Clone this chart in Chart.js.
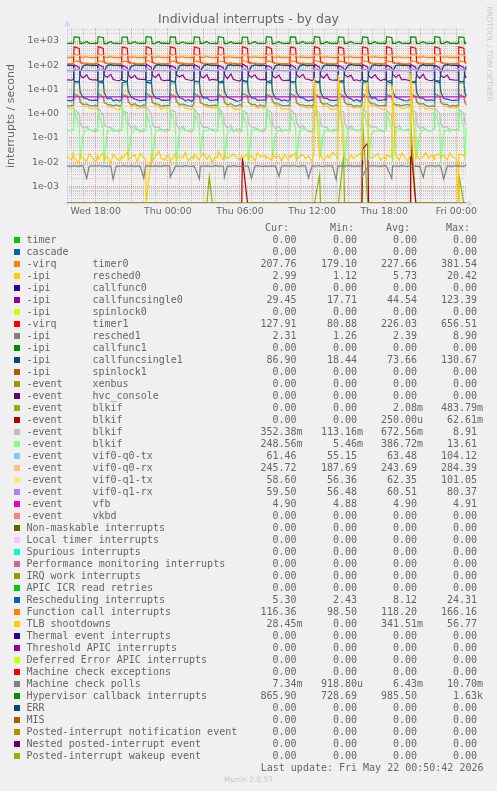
<!DOCTYPE html>
<html>
<head>
<meta charset="utf-8">
<title>Individual interrupts - by day</title>
<script src="https://cdn.jsdelivr.net/npm/chart.js@4.4.1/dist/chart.umd.min.js"></script>
<style>
  html, body { margin: 0; padding: 0; background: #f0f0f0; }
  #wrap { position: relative; width: 497px; height: 791px; overflow: hidden; color: #666; font-family: "DejaVu Sans", sans-serif; }
  #chart { position: absolute; left: 0; top: 0; }
  .abs { position: absolute; white-space: pre; }
  #title { left: 0; top: 11px; width: 497px; text-align: center; font-size: 12.5px; line-height: 15px; }
  #ytitle { left: -89px; top: 108.5px; width: 200px; text-align: center; font-size: 11px; line-height: 14px; transform: rotate(-90deg); }
  #side { left: 428.5px; top: 48.5px; width: 120px; text-align: center; font-size: 7.4px; line-height: 10px; color: #c8c8c8; transform: rotate(90deg); }
  #munin { left: 0; top: 775px; width: 497px; text-align: center; font-size: 7.5px; line-height: 10px; color: #c8c8c8; }
  .leg { font-family: "DejaVu Sans Mono", monospace; font-size: 10px; line-height: 12px; height: 12px; }
  .sw { position: absolute; width: 6px; height: 6px; }
</style>
</head>
<body>
<div id="wrap">
  <canvas id="chart" width="497" height="225"></canvas>
  <div id="title" class="abs">Individual interrupts - by day</div>
  <div id="ytitle" class="abs">interrupts / second</div>
  <div id="side" class="abs">RRDTOOL / TOBI OETIKER</div>
  <div id="legend"></div>
  <div id="munin" class="abs">Munin 2.0.57</div>
</div>
<script>
// sample times, hours relative to Thu 00:00. the load comes in bursts every two hours,
// so each 2h block is sampled around the burst edges
const periodStarts = [-8, -6, -4, -2, 0, 2, 4, 6, 8, 10, 12, 14, 16, 18, 20, 22];
const periodOffsets = [0, 0.15, 0.2, 0.63, 0.7, 0.95, 1.25, 1.45, 1.7];
const headHours = [-8.4];
const tailHours = [24, 24.15, 24.2, 24.63, 24.7, 24.83];
const flatHours = [-8.4, 24.83];

const tickHours = [-6, 0, 6, 12, 18, 24];
const tickLabels = ["Wed 18:00", "Thu 00:00", "Thu 06:00", "Thu 12:00", "Thu 18:00", "Fri 00:00"];

// series values (interrupts / second): first value, one line per 2h block, last six values
const hypervisor = [805,
  800,790,1480,1420,780,810,950,800,790,
  810,800,1500,1400,770,800,960,790,800,
  790,805,1450,1440,785,820,930,805,795,
  800,795,1520,1410,760,805,955,800,810,
  805,790,1490,1450,775,795,925,810,800,
  795,800,1470,1420,780,815,965,795,790,
  800,785,1500,1400,770,800,945,800,805,
  810,800,1460,1430,765,810,950,790,800,
  790,805,1510,1420,755,805,935,805,795,
  800,795,1480,1440,780,820,960,800,810,
  815,800,1500,1410,765,800,940,795,800,
  800,810,1470,1430,775,815,955,805,790,
  790,800,1490,1420,770,800,930,800,805,
  805,790,1520,1400,780,810,960,790,800,
  800,800,1480,1440,765,805,945,805,795,
  795,810,1500,1420,775,800,950,800,805,
  800,790,1490,1430,780,866];
const timer1 = [114,
  112,118,570,490,140,118,112,115,110,
  116,120,585,495,135,115,110,118,113,
  110,115,560,500,145,120,114,112,111,
  118,122,590,485,138,116,111,117,114,
  113,117,575,505,142,119,113,115,110,
  111,119,565,490,136,117,112,114,116,
  117,121,580,500,140,115,110,118,112,
  112,116,570,495,137,121,114,113,111,
  115,120,590,485,143,118,112,116,114,
  110,118,560,505,139,116,111,115,113,
  116,122,585,495,141,119,113,117,110,
  113,117,575,490,135,117,114,112,115,
  111,119,565,500,144,115,110,118,112,
  118,121,590,495,138,120,113,114,111,
  112,116,570,505,140,118,112,116,114,
  115,120,580,490,137,116,111,115,113,
  114,118,575,500,140,128];
const timer0 = [207,
  205,210,285,255,220,212,225,208,206,
  208,206,290,250,218,210,228,205,209,
  203,211,280,258,222,214,222,207,204,
  209,207,295,252,216,209,226,210,206,
  206,212,283,256,221,213,224,204,208,
  204,208,288,249,219,211,229,209,203,
  210,205,292,254,217,215,223,206,207,
  205,211,281,257,223,210,227,208,205,
  207,209,294,251,218,212,225,203,209,
  203,206,286,255,220,214,221,207,206,
  208,212,289,250,216,211,228,210,204,
  206,207,282,258,222,209,224,205,208,
  204,210,293,253,219,213,226,209,207,
  209,208,287,256,217,212,223,206,203,
  205,211,284,252,221,210,227,208,206,
  207,206,291,254,218,214,225,204,209,
  206,210,286,255,220,208];
const vifQ0rx = [242,
  240,244,262,255,246,242,250,241,243,
  243,241,265,253,248,239,252,244,240,
  238,245,260,257,244,243,249,240,242,
  244,242,267,254,247,241,251,243,239,
  241,246,261,256,245,240,248,242,244,
  239,243,264,252,249,244,253,239,241,
  245,240,259,255,243,242,250,244,238,
  240,244,266,257,246,239,249,241,243,
  242,247,262,253,248,243,252,238,240,
  238,241,263,256,244,241,251,243,245,
  243,245,260,254,247,240,248,240,242,
  241,242,268,252,245,244,250,242,239,
  239,246,261,257,249,242,253,244,241,
  244,243,264,255,243,239,249,239,243,
  240,241,262,253,246,243,251,241,240,
  242,245,265,256,248,241,250,243,242,
  241,244,263,254,246,246];
const functionCall = [115,
  113,116,150,140,125,117,124,114,115,
  115,114,155,138,127,119,122,116,113,
  112,117,148,142,123,116,126,113,114,
  116,115,158,139,126,118,123,115,117,
  114,113,151,141,124,120,125,112,115,
  111,116,154,137,128,117,121,116,114,
  117,114,149,143,125,119,127,114,112,
  113,118,156,140,122,116,124,115,116,
  115,115,152,138,127,118,122,113,114,
  112,117,150,142,124,120,126,117,113,
  116,114,157,139,126,117,123,114,115,
  114,116,148,141,123,119,125,112,116,
  113,115,155,140,128,116,121,115,114,
  117,113,151,138,125,118,127,116,112,
  112,117,153,143,124,117,124,114,115,
  115,116,150,139,126,119,122,113,114,
  114,115,152,140,125,116];
const callfuncsingle1 = [99,
  98,95,22,20,50,92,104,100,97,
  101,97,21,19,55,95,106,98,99,
  96,94,24,21,48,90,102,101,98,
  100,98,20,18,52,94,105,97,100,
  97,96,23,20,47,93,103,99,96,
  102,94,22,21,54,91,107,100,98,
  99,97,21,19,50,96,104,96,101,
  96,95,24,20,46,92,102,99,97,
  100,93,22,18,53,95,106,101,99,
  98,96,20,21,49,90,105,98,96,
  101,98,23,19,51,94,103,97,100,
  97,95,21,20,56,93,107,100,98,
  99,94,24,21,48,91,104,99,97,
  102,97,22,18,52,96,102,98,101,
  96,96,20,20,50,92,106,97,99,
  100,95,23,19,47,95,105,101,98,
  98,96,22,20,52,87];
const rescheduling = [3.5,
  3.4,3.8,20,22,8,4.5,4.2,3.6,3.5,
  3.6,3.5,21,23,7.5,4.2,4.5,3.4,3.7,
  3.3,3.9,19,21,8.5,4.8,4.0,3.7,3.4,
  3.7,3.6,22,24,7.8,4.4,4.3,3.5,3.6,
  3.5,3.7,20,22,8.2,4.6,4.1,3.3,3.8,
  3.2,4.0,21,21,7.6,4.3,4.6,3.6,3.5,
  3.8,3.5,19,23,8.4,4.7,4.2,3.8,3.3,
  3.4,3.8,22,22,7.9,4.5,4.4,3.5,3.6,
  3.6,3.6,20,24,8.1,4.2,4.0,3.4,3.7,
  3.3,3.9,21,21,7.7,4.8,4.5,3.7,3.4,
  3.7,3.5,19,22,8.3,4.4,4.3,3.6,3.5,
  3.5,3.7,22,23,7.8,4.6,4.1,3.3,3.8,
  3.2,3.8,20,21,8.0,4.3,4.6,3.6,3.5,
  3.8,3.6,21,24,8.5,4.7,4.2,3.8,3.4,
  3.4,3.9,19,22,7.6,4.5,4.4,3.5,3.6,
  3.6,3.5,22,23,8.2,4.2,4.0,3.7,3.5,
  3.5,3.7,20,22,8,5.3];
const resched0 = [1.7,
  1.6,1.8,16,18,4.0,2.0,2.1,1.7,1.6,
  1.7,1.6,17,19,3.6,2.2,1.9,1.8,1.5,
  1.5,1.9,15,17,4.2,1.9,2.2,1.6,1.7,
  1.8,1.7,18,20,3.8,2.1,2.0,1.5,1.8,
  1.6,1.8,16,18,4.1,2.0,2.3,1.7,1.6,
  1.5,2.0,17,17,3.7,2.2,1.9,1.8,1.7,
  1.9,1.6,16,19,4.3,1.9,2.1,1.6,1.5,
  1.6,1.7,18,18,3.9,2.1,2.0,1.7,1.8,
  1.7,1.9,15,20,4.0,2.0,2.2,1.5,1.6,
  1.5,1.7,17,17,3.6,2.3,1.9,1.8,1.7,
  1.8,1.8,16,18,4.2,1.9,2.1,1.6,1.5,
  1.6,1.6,18,19,3.8,2.1,2.0,1.7,1.8,
  1.7,1.9,17,17,4.1,2.0,2.2,1.8,1.6,
  1.5,1.7,15,20,3.7,2.2,1.9,1.6,1.7,
  1.9,1.8,16,18,4.3,1.9,2.1,1.5,1.6,
  1.6,1.6,18,19,3.9,2.1,2.0,1.7,1.8,
  1.7,1.8,17,18,4.0,3.0];
const resched1 = [2.1,
  2.1,2.2,6.5,5.0,3.0,2.4,2.5,2.2,2.1,
  2.2,2.0,6.8,4.8,2.8,2.5,2.3,2.1,2.3,
  2.0,2.3,6.2,5.3,3.1,2.3,2.6,2.2,2.0,
  2.3,2.1,7.0,4.9,2.9,2.6,2.4,2.0,2.2,
  2.1,2.2,6.4,5.2,3.2,2.4,2.5,2.3,2.1,
  2.0,2.4,6.7,5.0,2.8,2.5,2.3,2.1,2.2,
  2.2,2.1,6.3,4.7,3.0,2.3,2.6,2.2,2.0,
  2.4,2.0,6.9,5.4,2.9,2.4,2.4,2.0,2.3,
  2.0,2.3,6.2,5.0,3.1,2.6,2.5,2.2,2.1,
  2.2,2.1,6.6,5.1,2.8,2.3,2.3,2.1,2.2,
  2.1,2.2,6.4,4.9,3.0,2.5,2.6,2.3,2.0,
  2.3,2.0,7.1,5.2,2.9,2.4,2.4,2.0,2.2,
  2.0,2.3,6.5,4.8,3.2,2.6,2.5,2.2,2.1,
  2.2,2.1,6.2,5.3,2.8,2.3,2.3,2.1,2.3,
  2.4,2.2,6.8,5.0,3.0,2.5,2.6,2.2,2.0,
  2.1,2.0,6.6,5.1,2.9,2.4,2.4,2.0,2.2,
  2.1,2.2,6.4,5.0,3.0,2.3];
const callfuncsingle0 = [25,
  24,26,105,80,40,30,40,27,25,
  25,24,110,84,38,32,42,26,24,
  23,27,100,78,42,29,38,28,26,
  26,25,112,82,39,31,43,25,23,
  24,23,98,79,41,33,39,27,25,
  23,26,108,81,37,30,41,24,26,
  25,24,102,77,43,28,44,26,24,
  22,27,115,83,40,32,40,28,25,
  26,25,100,80,38,30,39,25,23,
  24,23,106,78,42,31,42,27,26,
  23,26,111,82,39,29,43,26,24,
  25,24,99,76,41,33,38,24,25,
  22,27,107,84,37,30,41,28,23,
  26,25,103,79,43,32,40,25,26,
  24,23,109,81,40,29,42,27,24,
  23,26,101,77,38,31,39,26,25,
  24,25,105,80,40,29.5];
const vifQ0tx = [61,
  60,61,72,66,62,60,63,61,60,
  61,60,74,65,63,61,62,60,61,
  59,62,70,67,61,60,64,62,59,
  62,60,75,64,62,59,62,60,61,
  60,61,71,66,63,61,63,59,60,
  61,59,73,65,61,60,64,61,62,
  59,62,70,67,62,62,62,60,60,
  60,61,76,64,63,59,63,62,61,
  62,60,71,66,61,60,62,60,59,
  60,61,74,65,62,61,64,61,60,
  61,59,72,67,63,59,63,60,62,
  59,62,73,64,61,60,62,62,60,
  60,60,70,66,62,62,64,59,61,
  62,61,75,65,63,60,63,61,60,
  60,60,71,67,61,61,62,60,59,
  61,62,74,64,62,59,64,61,61,
  60,61,72,66,62,61.5];
const vifQ1tx = [59,
  58,59,68,63,60,58,60,59,58,
  59,58,70,62,61,59,61,58,59,
  57,60,67,64,59,58,59,60,57,
  60,58,71,61,60,57,61,58,59,
  58,59,69,63,61,59,60,57,58,
  59,57,68,62,59,58,62,59,60,
  57,60,66,64,60,60,59,58,58,
  58,59,72,61,61,57,60,60,59,
  60,58,67,63,59,58,61,58,57,
  58,59,70,62,60,59,59,59,58,
  59,57,68,64,61,57,60,58,60,
  57,60,69,61,59,58,62,60,58,
  58,58,66,63,60,60,59,57,59,
  60,59,71,62,61,58,61,59,58,
  58,58,67,64,59,59,60,58,57,
  59,60,70,61,60,57,61,59,59,
  58,59,68,63,60,58.6];
const vifQ1rx = [60,
  59,60,66,62,61,59,60,60,59,
  60,59,67,61,60,60,61,59,60,
  58,60,65,63,61,59,60,60,58,
  60,59,68,61,60,58,61,59,60,
  59,60,66,62,61,60,60,58,59,
  60,58,67,61,59,59,62,60,60,
  58,60,65,63,60,60,59,59,59,
  59,60,69,61,61,58,60,60,60,
  60,59,66,62,60,59,61,59,58,
  59,60,67,61,61,60,60,60,59,
  60,58,66,63,59,58,61,59,60,
  58,60,68,61,60,59,62,60,59,
  59,59,65,62,61,60,60,58,60,
  60,60,67,61,60,59,61,59,59,
  59,59,66,63,59,60,60,60,58,
  60,60,68,61,61,58,61,59,60,
  59,60,66,62,60,59.5];
const blkifGray = [0.2,
  0.2,0.22,1.5,1.0,0.4,0.25,0.3,0.22,0.2,
  0.18,0.24,1.7,0.9,0.35,0.28,0.27,0.19,0.21,
  0.21,0.2,1.3,1.1,0.42,0.24,0.32,0.23,0.18,
  0.19,0.23,1.9,1.0,0.38,0.26,0.29,0.2,0.22,
  0.22,0.21,1.4,1.2,0.36,0.23,0.31,0.21,0.19,
  0.17,0.25,1.6,0.8,0.41,0.27,0.28,0.24,0.2,
  0.2,0.22,1.7,1.0,0.37,0.25,0.33,0.18,0.23,
  0.23,0.19,1.4,1.0,0.39,0.29,0.26,0.22,0.19,
  0.19,0.24,1.6,1.1,0.34,0.24,0.3,0.2,0.21,
  0.21,0.2,1.5,0.9,0.43,0.26,0.32,0.23,0.18,
  0.18,0.23,1.8,1.0,0.36,0.28,0.27,0.19,0.22,
  0.22,0.21,1.3,1.2,0.4,0.23,0.31,0.21,0.2,
  0.2,0.25,1.7,1.0,0.38,0.27,0.29,0.24,0.19,
  0.19,0.22,1.4,0.8,0.35,0.25,0.33,0.2,0.21,
  0.23,0.2,1.6,1.1,0.42,0.24,0.28,0.22,0.2,
  0.2,0.24,1.7,1.0,0.37,0.26,0.3,0.18,0.22,
  0.21,0.22,1.5,1.0,0.4,0.35];
const blkifGreen = [0.21,
  0.2,0.22,1.5,0.3,0.012,0.15,0.25,0.22,0.2,
  0.23,0.19,1.2,0.25,0.009,0.18,0.21,0.24,0.19,
  0.18,0.24,2.0,0.35,0.015,0.14,0.26,0.2,0.22,
  0.21,0.2,1.1,0.22,0.01,0.17,0.22,0.23,0.18,
  0.19,0.23,1.6,0.3,0.008,0.16,0.25,0.19,0.21,
  0.22,0.21,1.3,0.28,0.02,0.19,0.2,0.22,0.23,
  0.2,0.18,2.2,0.33,0.011,0.15,0.24,0.21,0.19,
  0.17,0.22,1.2,0.24,0.009,0.18,0.23,0.24,0.2,
  0.23,0.25,1.7,0.3,0.013,0.14,0.21,0.18,0.22,
  0.19,0.2,1.0,0.27,0.01,0.17,0.26,0.22,0.2,
  0.21,0.23,1.8,0.32,0.016,0.16,0.22,0.2,0.18,
  0.2,0.19,1.4,0.26,0.008,0.19,0.25,0.23,0.21,
  0.22,0.24,1.5,0.3,0.012,0.15,0.2,0.19,0.22,
  0.18,0.21,1.1,0.23,0.01,0.18,0.24,0.21,0.2,
  0.21,0.22,1.9,0.34,0.014,0.14,0.23,0.22,0.19,
  0.2,0.25,1.3,0.28,0.009,0.17,0.21,0.24,0.21,
  0.22,0.2,1.6,0.3,0.011,0.25];
const blkifOlive = [0,
  0,0,0,0,0,0,0,0,0,
  0,0,0,0,0,0,0,0,0,
  0,0,0,0,0,0,0,0,0,
  0,0,0,0,0,0,0,0,0,
  0,0,0,0,0,0,0,0,0,
  0,0,0,0,0,0,0,0.0025,0,
  0,0,0,0,0,0,0,0,0,
  0,0,0,0,0,0,0,0,0,
  0,0,0,0,0,0,0,0,0,
  0,0,0,0,0,0,0,0,0,
  0,0,0,0.003,0,0,0,0,0,
  0,0,0,0.02,0,0,0,0,0,
  0,0,0.45,0,0,0,0,0,0,
  0,0,0,0,0,0,0,0,0,
  0,0,0.48,0,0,0,0,0,0,
  0,0,0,0,0,0,0,0,0,
  0,0,0.003,0,0,0];
const blkifRed = [0,
  0,0,0,0,0,0,0,0,0,
  0,0,0,0,0,0,0,0,0,
  0,0,0,0,0,0,0,0,0,
  0,0,0,0,0,0,0,0,0,
  0,0,0,0,0,0,0,0,0,
  0,0,0,0,0,0,0,0,0,
  0,0,0,0,0,0,0,0,0,
  0,0,0.016,0,0,0,0,0,0,
  0,0,0,0,0,0,0,0,0,
  0,0,0,0,0,0,0,0,0,
  0,0,0,0,0,0,0,0,0,
  0,0,0,0,0,0,0,0,0,
  0,0,0.035,0.06,0,0,0,0,0,
  0,0,0,0,0,0,0,0,0,
  0,0,0.05,0,0,0,0,0,0,
  0,0,0,0,0,0,0,0,0,
  0,0,0,0,0,0];
const tlbShootdowns = [0.018,
  0.012,0.025,0.015,0.009,0.02,0.014,0.011,0.022,0.016,
  0.01,0.019,0.013,0.024,0.012,0.017,0.009,0.021,0.015,
  0.011,0.018,0.014,0.026,0.012,0.016,0.02,0.01,0.023,
  0.015,0.013,0,0.019,0.011,0.017,0.028,0.014,0.012,
  0.02,0.016,0.01,0.022,0.013,0.018,0.015,0.025,0.011,
  0.017,0.014,0.021,0.012,0.016,0.024,0.013,0.019,0.01,
  0.018,0.015,0.027,0.012,0.02,0.014,0.017,0.022,0.016,
  0.012,0.018,0.015,0.021,0.013,0.019,0.011,0.024,0.016,
  0.02,0.014,0.017,0.012,0.023,0.015,0.018,0.011,0.021,
  0.013,0.019,0.016,0.024,0.012,0.017,0.02,0.014,0.018,
  0.011,0.022,30,0.016,0.022,0.012,0.018,0.015,0.025,
  0.019,0.013,40,0.021,0.016,0.011,0.02,0.014,0.018,
  0.023,0.015,0.6,20,0.02,0.014,0.018,0.023,0.012,
  0.017,0.013,0.02,0.015,15,0.019,0.012,0.024,0.016,
  0.011,0.018,50,0.014,0.02,0.013,0.017,0.025,0.014,
  0.02,0.013,0.018,0.022,0.015,0.019,0.012,0.024,0.016,
  0.014,0,0.022,0.018,0.02,0.028];
const mcePolls = [0.0068,
  0.0066,0.007,0.0069,0.0067,0.0071,0.0068,0.0021,0.0066,0.007,
  0.0069,0.0068,0.0072,0.0067,0.0069,0.0066,0.007,0.0019,0.0068,
  0.0067,0.0069,0.0071,0.0068,0.0066,0.007,0.0068,0.0069,0.0067,
  0.0022,0.0071,0.0068,0.0069,0.0066,0.007,0.0068,0.0067,0.0071,
  0.0068,0.0069,0.0024,0.0066,0.007,0.0068,0.0067,0.0071,0.0068,
  0.0066,0.007,0.0068,0.002,0.0069,0.0066,0.007,0.0068,0.0067,
  0.0071,0.0068,0.0069,0.0066,0.0023,0.0068,0.0067,0.0071,0.0068,
  0.0066,0.007,0.0069,0.0068,0.0067,0.0021,0.0069,0.0071,0.0068,
  0.0067,0.0069,0.0066,0.007,0.0068,0.0069,0.0025,0.0067,0.0071,
  0.0068,0.0066,0.007,0.0069,0.0068,0.0067,0.0071,0.0068,0.0022,
  0.0069,0.0068,0.0067,0.0071,0.0068,0.0066,0.007,0.0069,0.0068,
  0.0019,0.007,0.0069,0.0068,0.0067,0.0071,0.0068,0.0066,0.007,
  0.0068,0.0067,0.0026,0.0068,0.0066,0.007,0.0069,0.0068,0.0067,
  0.0071,0.0068,0.0066,0.0021,0.0069,0.0068,0.0067,0.0071,0.0068,
  0.0066,0.007,0.0068,0.0069,0.0067,0.0068,0.0023,0.0066,0.007,
  0.0069,0.0068,0.0067,0.0071,0.0068,0.002,0.0069,0.0068,0.0067,
  0.0071,0.0068,0.0069,0.0066,0.007,0.0073];
// constant series, two samples (start and end)
const vfb = [4.9, 4.9];
const postedWakeup = [0, 0];

// legend table
const legendNames = ["timer", "cascade", "-virq", "-ipi", "-ipi", "-ipi", "-ipi", "-virq", "-ipi", "-ipi", "-ipi", "-ipi",
  "-event", "-event", "-event", "-event", "-event", "-event", "-event", "-event", "-event", "-event", "-event", "-event",
  "Non-maskable interrupts", "Local timer interrupts", "Spurious interrupts", "Performance monitoring interrupts",
  "IRQ work interrupts", "APIC ICR read retries", "Rescheduling interrupts", "Function call interrupts", "TLB shootdowns",
  "Thermal event interrupts", "Threshold APIC interrupts", "Deferred Error APIC interrupts", "Machine check exceptions",
  "Machine check polls", "Hypervisor callback interrupts", "ERR", "MIS", "Posted-interrupt notification event",
  "Nested posted-interrupt event", "Posted-interrupt wakeup event"];
const legendDetails = ["", "", "timer0", "resched0", "callfunc0", "callfuncsingle0", "spinlock0", "timer1", "resched1", "callfunc1",
  "callfuncsingle1", "spinlock1", "xenbus", "hvc_console", "blkif", "blkif", "blkif", "blkif", "vif0-q0-tx", "vif0-q0-rx",
  "vif0-q1-tx", "vif0-q1-rx", "vfb", "vkbd"];
const legendColors = ["#00CC00", "#0066B3", "#FF8000", "#FFCC00", "#330099", "#990099", "#CCFF00", "#FF0000", "#808080", "#008F00",
  "#00487D", "#B35A00", "#B38F00", "#6B006B", "#8FB300", "#B30000", "#BEBEBE", "#80FF80", "#80C9FF", "#FFC080", "#FFE680",
  "#AA80FF", "#EE00CC", "#FF8080", "#666600", "#FFBFFF", "#00FFCC", "#CC6699", "#999900", "#00CC00", "#0066B3", "#FF8000",
  "#FFCC00", "#330099", "#990099", "#CCFF00", "#FF0000", "#808080", "#008F00", "#00487D", "#B35A00", "#B38F00", "#6B006B", "#8FB300"];
const legendCur = ["0.00","0.00","207.76","2.99","0.00","29.45","0.00","127.91","2.31","0.00","86.90","0.00","0.00","0.00","0.00","0.00",
  "352.38m","248.56m","61.46","245.72","58.60","59.50","4.90","0.00","0.00","0.00","0.00","0.00","0.00","0.00","5.30","116.36",
  "28.45m","0.00","0.00","0.00","0.00","7.34m","865.90","0.00","0.00","0.00","0.00","0.00"];
const legendMin = ["0.00","0.00","179.10","1.12","0.00","17.71","0.00","80.88","1.26","0.00","18.44","0.00","0.00","0.00","0.00","0.00",
  "113.16m","5.46m","55.15","187.69","56.36","56.48","4.88","0.00","0.00","0.00","0.00","0.00","0.00","0.00","2.43","98.50",
  "0.00","0.00","0.00","0.00","0.00","918.80u","728.69","0.00","0.00","0.00","0.00","0.00"];
const legendAvg = ["0.00","0.00","227.66","5.73","0.00","44.54","0.00","226.03","2.39","0.00","73.66","0.00","0.00","0.00","2.08m","250.00u",
  "672.56m","386.72m","63.48","243.69","62.35","60.51","4.90","0.00","0.00","0.00","0.00","0.00","0.00","0.00","8.12","118.20",
  "341.51m","0.00","0.00","0.00","0.00","6.43m","985.50","0.00","0.00","0.00","0.00","0.00"];
const legendMax = ["0.00","0.00","381.54","20.42","0.00","123.39","0.00","656.51","8.90","0.00","130.67","0.00","0.00","0.00","483.79m","62.61m",
  "8.91","13.61","104.12","284.39","101.05","80.37","4.91","0.00","0.00","0.00","0.00","0.00","0.00","0.00","24.31","166.16",
  "56.77","0.00","0.00","0.00","0.00","10.70m","1.63k","0.00","0.00","0.00","0.00","0.00"];
const legendHeaders = ["Cur:", "Min:", "Avg:", "Max:"];
const lastUpdate = "Last update: Fri May 22 00:50:42 2026";

const hours = headHours.concat(periodStarts.flatMap((s) => periodOffsets.map((o) => s + o)), tailHours);

// plotted series, by legend row (later rows are drawn on top)
const plotted = [
  { row: 3, color: "#FF8000", values: timer0 },
  { row: 4, color: "#FFCC00", values: resched0 },
  { row: 6, color: "#990099", values: callfuncsingle0 },
  { row: 8, color: "#FF0000", values: timer1 },
  { row: 9, color: "#808080", values: resched1 },
  { row: 11, color: "#00487D", values: callfuncsingle1 },
  { row: 15, color: "#8FB300", values: blkifOlive },
  { row: 16, color: "#B30000", values: blkifRed },
  { row: 17, color: "#BEBEBE", values: blkifGray },
  { row: 18, color: "#80FF80", values: blkifGreen },
  { row: 19, color: "#80C9FF", values: vifQ0tx },
  { row: 20, color: "#FFC080", values: vifQ0rx },
  { row: 21, color: "#FFE680", values: vifQ1tx },
  { row: 22, color: "#AA80FF", values: vifQ1rx },
  { row: 23, color: "#EE00CC", values: vfb, at: flatHours },
  { row: 31, color: "#0066B3", values: rescheduling },
  { row: 32, color: "#FF8000", values: functionCall },
  { row: 33, color: "#FFCC00", values: tlbShootdowns },
  { row: 38, color: "#808080", values: mcePolls },
  { row: 39, color: "#008F00", values: hypervisor },
  { row: 44, color: "#8FB300", values: postedWakeup, at: flatHours }
];

const xMin = -8.39, xMax = 24.89;
const yMin = 2.04e-4, yMax = 3443;
const axisColor = "#CFD6F8";
const minorGrid = "rgba(143,143,143,0.4)";
const majorGrid = "rgba(222,80,80,0.5)";
const tickFont = { family: "DejaVu Sans", size: 9.4 };

function isDecade(v) {
  const e = Math.log10(v);
  return Math.abs(e - Math.round(e)) < 1e-9;
}

function expLabel(v) {
  const e = Math.round(Math.log10(v));
  const a = Math.abs(e);
  return "1e" + (e < 0 ? "-" : "+") + (a < 10 ? "0" : "") + a;
}

// axis lines with arrow heads, like rrdtool
const rrdAxes = {
  id: "rrdAxes",
  beforeDatasetsDraw(chart) {
    const { ctx, chartArea: a } = chart;
    ctx.save();
    ctx.strokeStyle = axisColor;
    ctx.fillStyle = axisColor;
    ctx.lineWidth = 1;
    ctx.beginPath();
    ctx.moveTo(a.left + 0.5, a.bottom + 3);
    ctx.lineTo(a.left + 0.5, a.top - 3);
    ctx.moveTo(a.left - 3, a.bottom + 0.5);
    ctx.lineTo(a.right + 2, a.bottom + 0.5);
    ctx.stroke();
    ctx.beginPath();
    ctx.moveTo(a.left - 2.5, a.top - 2);
    ctx.lineTo(a.left + 3.5, a.top - 2);
    ctx.lineTo(a.left + 0.5, a.top - 7.5);
    ctx.closePath();
    ctx.fill();
    ctx.beginPath();
    ctx.moveTo(a.right + 1, a.bottom - 2.5);
    ctx.lineTo(a.right + 1, a.bottom + 3.5);
    ctx.lineTo(a.right + 6.5, a.bottom + 0.5);
    ctx.closePath();
    ctx.fill();
    ctx.restore();
  }
};

const datasets = plotted.map((s) => {
  const xs = s.at || hours;
  return {
    data: s.values.map((v, i) => ({ x: xs[i], y: v === 0 ? yMin : v })),
    borderColor: s.color,
    borderWidth: 1.2,
    pointRadius: 0,
    tension: 0,
    fill: false,
    order: -s.row
  };
});

new Chart(document.getElementById("chart"), {
  type: "line",
  data: { datasets },
  plugins: [rrdAxes],
  options: {
    responsive: false,
    animation: false,
    events: [],
    layout: { padding: { left: 0, right: 30, top: 28, bottom: 0 } },
    plugins: { legend: { display: false }, tooltip: { enabled: false } },
    scales: {
      x: {
        type: "linear",
        min: xMin,
        max: xMax,
        afterFit: (scale) => { scale.height = 22; },
        afterBuildTicks: (scale) => {
          const t = [];
          for (let h = Math.ceil(xMin); h <= Math.floor(xMax); h++) t.push({ value: h });
          scale.ticks = t;
        },
        ticks: {
          autoSkip: false,
          maxRotation: 0,
          padding: 3,
          color: "#666",
          font: tickFont,
          callback: (v) => {
            const i = tickHours.indexOf(v);
            return i >= 0 ? tickLabels[i] : "";
          }
        },
        grid: {
          drawTicks: false,
          lineWidth: 1,
          color: (ctx) => (ctx.tick && ctx.tick.value % 3 === 0 ? majorGrid : minorGrid)
        },
        border: { display: false, dash: [1, 1] }
      },
      y: {
        type: "logarithmic",
        min: yMin,
        max: yMax,
        afterFit: (scale) => { scale.width = 67; },
        afterBuildTicks: (scale) => {
          const t = [];
          for (let e = -4; e <= 3; e++) {
            for (let m = 1; m <= 9; m++) {
              const v = m * Math.pow(10, e);
              if (v > yMin && v < yMax) t.push({ value: v });
            }
          }
          scale.ticks = t;
        },
        ticks: {
          autoSkip: false,
          padding: 8,
          color: "#666",
          font: tickFont,
          callback: (v) => (isDecade(v) ? expLabel(v) : "")
        },
        grid: {
          drawTicks: false,
          lineWidth: 1,
          color: (ctx) => (ctx.tick && isDecade(ctx.tick.value) ? majorGrid : minorGrid)
        },
        border: { display: false, dash: [1, 1] }
      }
    }
  }
});

// legend rows as text
const legend = document.getElementById("legend");
const valueEdges = [296.5, 357, 417, 477];
const headerEdges = [289, 354, 410, 470];

function addText(text, x, top, alignRight) {
  const el = document.createElement("div");
  el.className = "abs leg";
  el.textContent = text;
  el.style.top = top + "px";
  if (alignRight) el.style.right = (497 - x) + "px";
  else el.style.left = x + "px";
  legend.appendChild(el);
}

function addValue(str, edge, top) {
  const last = str.charAt(str.length - 1);
  const hasSuffix = /[a-z]/i.test(last);
  addText(hasSuffix ? str.slice(0, -1) : str, edge, top, true);
  if (hasSuffix) addText(last, edge, top, false);
}

legendHeaders.forEach((h, i) => addText(h, headerEdges[i], 222, true));

legendNames.forEach((name, i) => {
  const top = 234 + i * 12;
  const sw = document.createElement("div");
  sw.className = "sw";
  sw.style.left = "14px";
  sw.style.top = (top + 3) + "px";
  sw.style.background = legendColors[i];
  legend.appendChild(sw);
  addText(name, 26.5, top, false);
  if (legendDetails[i]) addText(legendDetails[i], 92.5, top, false);
  addValue(legendCur[i], valueEdges[0], top);
  addValue(legendMin[i], valueEdges[1], top);
  addValue(legendAvg[i], valueEdges[2], top);
  addValue(legendMax[i], valueEdges[3], top);
});

addText(lastUpdate, 483.5, 234 + legendNames.length * 12, true);
</script>
</body>
</html>
